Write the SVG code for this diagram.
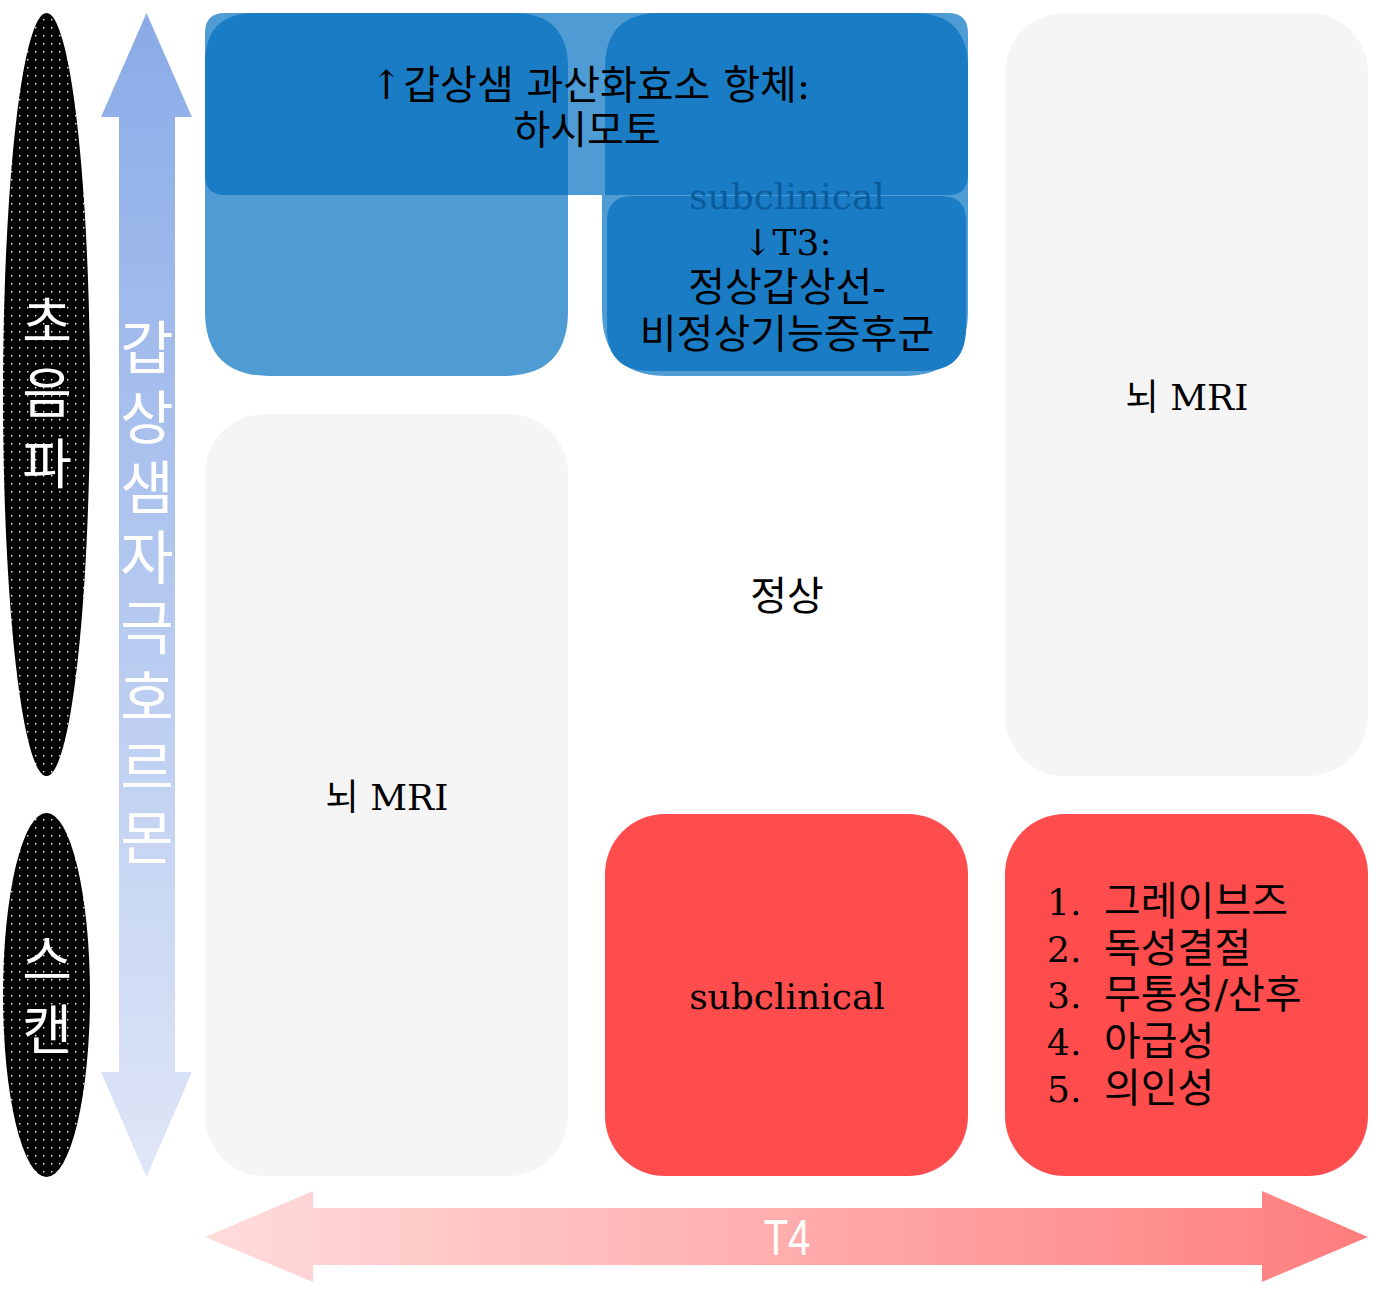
<svg xmlns="http://www.w3.org/2000/svg" width="1383" height="1294" viewBox="0 0 1383 1294">
<defs>
  <pattern id="dots" width="8" height="8" patternUnits="userSpaceOnUse">
    <rect width="8" height="8" fill="#000"/>
    <rect x="3" y="3" width="1.4" height="1.4" fill="#fff"/>
  </pattern>
  <linearGradient id="gv" x1="0" y1="0" x2="0" y2="1">
    <stop offset="0" stop-color="#8aabe8"/>
    <stop offset="1" stop-color="#dfe6f7"/>
  </linearGradient>
  <linearGradient id="gh" x1="0" y1="0" x2="1" y2="0">
    <stop offset="0" stop-color="#ffdcdc"/>
    <stop offset="1" stop-color="#ff7d7d"/>
  </linearGradient>
  <style>
    .t{font-family:'DejaVu Serif','Noto Sans CJK KR',serif;font-size:36px;fill:#000;text-anchor:middle}
    .k{font-family:'DejaVu Serif','Noto Sans CJK KR',serif;font-size:40px;fill:#000;text-anchor:middle}
    .l{font-family:'DejaVu Serif','Noto Sans CJK KR',serif;font-size:36px;fill:#000}
    .lk{font-size:40px}
    .v{font-family:'Noto Sans CJK KR',sans-serif;fill:#fff;text-anchor:middle;writing-mode:vertical-rl}
    .gray{fill:#f5f5f5}
    .red{fill:#ff4d4d}
    .lb{fill:#4f9bd4}
    .db{fill:#1a7cc4}
  </style>
</defs>
<rect width="1383" height="1294" fill="#fff"/>

<g id="side-labels">
  <g id="ultrasound">
    <ellipse cx="46.5" cy="394.5" rx="43.5" ry="381.5" fill="url(#dots)"/>
    <text class="v" x="47" y="401" font-size="54" letter-spacing="17">초음파</text>
  </g>
  <g id="scan">
    <ellipse cx="46.5" cy="995" rx="43.5" ry="182" fill="url(#dots)"/>
    <text class="v" x="47" y="1002" font-size="54" letter-spacing="16">스캔</text>
  </g>
</g>

<g id="axes">
  <g id="tsh-axis">
    <polygon points="146.5,13 192,117 175,117 175,1072 192,1072 146.5,1177 101,1072 119,1072 119,117 101,117" fill="url(#gv)"/>
    <text class="v" x="147" y="598" font-size="58" letter-spacing="12">갑상샘자극호르몬</text>
  </g>
  <g id="t4-axis">
    <polygon points="205,1237 313,1191 313,1208 1262,1208 1262,1191 1368,1237 1262,1282 1262,1265 313,1265 313,1282" fill="url(#gh)"/>
    <text transform="translate(787,1255) scale(0.8,1)" x="0" y="0" font-family="'Liberation Sans',sans-serif" font-size="50" fill="#fff" text-anchor="middle">T4</text>
  </g>
</g>

<g id="top-blue">
  <g id="blue-base">
    <path class="lb" d="M225,13 H948 Q968,13 968,33 V195 H205 V33 Q205,13 225,13 Z"/>
    <path class="lb" d="M205,100 V311 Q205,376 270,376 H503 Q568,376 568,311 V100 Z"/>
    <path class="lb" d="M602,100 V311 Q602,376 667,376 H903 Q968,376 968,311 V100 Z"/>
  </g>
  <g id="hashimoto">
    <path class="db" d="M255,13 H513 Q568,13 568,68 V195 H225 Q205,195 205,175 V63 Q205,13 255,13 Z"/>
    <path class="db" d="M660,13 H913 Q968,13 968,68 V175 Q968,195 948,195 H605 V68 Q605,13 660,13 Z"/>
    <text class="k" x="590" y="99">↑갑상샘 과산화효소 항체:</text>
    <text class="k" x="587" y="144">하시모토</text>
  </g>
  <g id="euthyroid-sick">
    <path class="db" d="M633,196 H941 Q966,196 966,221 V328 Q966,371 923,371 H650 Q607,371 607,328 V221 Q607,196 633,196 Z"/>
    <text class="t" x="787" y="209" style="fill:#0b5c9c">subclinical</text>
    <text class="t" x="787" y="255">↓T3:</text>
    <text class="k" x="787" y="301">정상갑상선-</text>
    <text class="k" x="787" y="348">비정상기능증후군</text>
  </g>
</g>

<g id="brain-mri-right">
  <rect class="gray" x="1005" y="13" width="363" height="763" rx="60"/>
  <text class="t" x="1187" y="410">뇌 MRI</text>
</g>

<g id="brain-mri-left">
  <rect class="gray" x="205" y="414" width="363" height="762" rx="60"/>
  <text class="t" x="387" y="810">뇌 MRI</text>
</g>

<g id="normal">
  <text class="k" x="787" y="610">정상</text>
</g>

<g id="subclinical-hyper">
  <rect class="red" x="605" y="814" width="363" height="362" rx="60"/>
  <text class="t" x="787" y="1009">subclinical</text>
</g>

<g id="hyper-causes">
  <rect class="red" x="1005" y="814" width="363" height="362" rx="60"/>
  <text class="l"><tspan x="1047" y="915">1.</tspan><tspan class="lk" x="1104" y="915">그레이브즈</tspan></text>
  <text class="l"><tspan x="1047" y="962">2.</tspan><tspan class="lk" x="1104" y="962">독성결절</tspan></text>
  <text class="l"><tspan x="1047" y="1008">3.</tspan><tspan class="lk" x="1104" y="1008">무통성/산후</tspan></text>
  <text class="l"><tspan x="1047" y="1055">4.</tspan><tspan class="lk" x="1104" y="1055">아급성</tspan></text>
  <text class="l"><tspan x="1047" y="1102">5.</tspan><tspan class="lk" x="1104" y="1102">의인성</tspan></text>
</g>
</svg>
